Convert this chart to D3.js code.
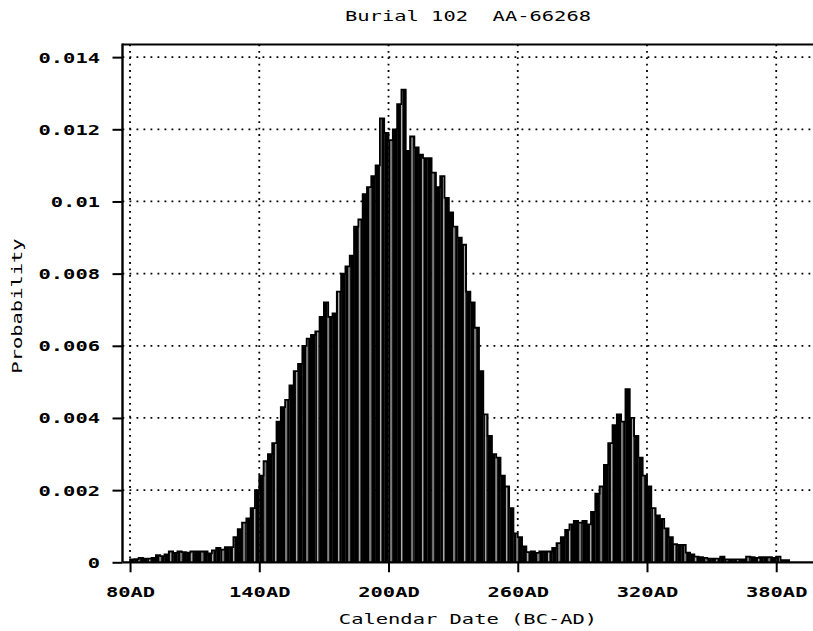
<!DOCTYPE html>
<html>
<head>
<meta charset="utf-8">
<script src="https://cdn.jsdelivr.net/npm/d3@7"></script>
<style>
    body { margin: 0; background: #fff; }
    svg { display: block; }
    text { font-family: "DejaVu Sans Mono", monospace; fill: #000; white-space: pre; }
</style>
</head>
<body>
<script>
'use strict';

/**
 * calibrated date histogram, Burial 102
 */

var title = 'Burial 102  AA-66268';
var xLabel = 'Calendar Date (BC-AD)';
var yLabel = 'Probability';

var xTicks = [80, 140, 200, 260, 320, 380];
var xTickLabels = ['80AD', '140AD', '200AD', '260AD', '320AD', '380AD'];
var yTicks = [0, 0.002, 0.004, 0.006, 0.008, 0.01, 0.012, 0.014];
var yTickLabels = ['0', '0.002', '0.004', '0.006', '0.008', '0.01', '0.012', '0.014'];

// bins are 2 years wide, listed by start year
var binWidth = 2;
var binYears = [
    80, 82, 84, 86, 88, 90, 92, 94, 96, 98,
    100, 102, 104, 106, 108, 110, 112, 114, 116, 118,
    120, 122, 124, 126, 128, 130, 132, 134, 136, 138,
    140, 142, 144, 146, 148, 150, 152, 154, 156, 158,
    160, 162, 164, 166, 168, 170, 172, 174, 176, 178,
    180, 182, 184, 186, 188, 190, 192, 194, 196, 198,
    200, 202, 204, 206, 208, 210, 212, 214, 216, 218,
    220, 222, 224, 226, 228, 230, 232, 234, 236, 238,
    240, 242, 244, 246, 248, 250, 252, 254, 256, 258,
    260, 262, 264, 266, 268, 270, 272, 274, 276, 278,
    280, 282, 284, 286, 288, 290, 292, 294, 296, 298,
    300, 302, 304, 306, 308, 310, 312, 314, 316, 318,
    320, 322, 324, 326, 328, 330, 332, 334, 336, 338,
    340, 342, 344, 346, 348, 350, 352, 354, 356, 358,
    360, 362, 364, 366, 368, 370, 372, 374, 376, 378,
    380, 382, 384
];
var probs = [
    0.00008, 0.00009, 0.00012, 0.0001, 0.0001, 0.00012, 0.0002, 0.00017, 0.00022, 0.0003,
    0.00026, 0.0003, 0.00028, 0.00027, 0.0003, 0.0003, 0.0003, 0.0003, 0.00025, 0.00033,
    0.0004, 0.00035, 0.00042, 0.00042, 0.0007, 0.00092, 0.0011, 0.00122, 0.0015, 0.002,
    0.0024, 0.0028, 0.003, 0.0033, 0.0039, 0.0043, 0.0045, 0.0049, 0.0053, 0.0055,
    0.006, 0.0062, 0.0063, 0.0064, 0.0068, 0.0072, 0.0068, 0.0069, 0.0075, 0.008,
    0.0082, 0.0085, 0.0093, 0.0095, 0.0102, 0.0104, 0.0107, 0.011, 0.0123, 0.0119,
    0.0117, 0.012, 0.0127, 0.0131, 0.0114, 0.0118, 0.0115, 0.0113, 0.0112, 0.0112,
    0.0108, 0.0104, 0.0107, 0.0101, 0.0097, 0.0093, 0.009, 0.0088, 0.0075, 0.0072,
    0.0065, 0.0053, 0.0041, 0.0035, 0.003, 0.0029, 0.0024, 0.0021, 0.0015, 0.0008,
    0.0007, 0.00044, 0.00028, 0.0003, 0.00026, 0.0003, 0.0003, 0.0003, 0.0004, 0.00053,
    0.0007, 0.0009, 0.00105, 0.00115, 0.0011, 0.00115, 0.00105, 0.0014, 0.0019, 0.0021,
    0.0027, 0.0033, 0.0038, 0.0041, 0.0039, 0.0048, 0.004, 0.0035, 0.0029, 0.0024,
    0.0021, 0.0015, 0.0013, 0.0012, 0.00094, 0.0007, 0.0005, 0.00048, 0.00048, 0.00027,
    0.00022, 0.00016, 0.00014, 0.00012, 0.0001, 0.0001, 0.0001, 0.00016, 0.00008, 0.00008,
    0.00008, 0.00008, 0.00008, 0.00016, 0.00014, 0.00012, 0.00014, 0.00014, 0.00014, 0.00012,
    0.00016, 0.00006, 0.00006
];

var width = 813;
var height = 631;
var frame = {left: 122.5, top: 44.5, right: 815, bottom: 562.3};
var charAdvance = 12.3; // wide plotter font

var x = d3.scaleLinear().domain([76.5, 398]).range([frame.left, frame.right]);
var y = d3.scaleLinear().domain([0, 0.01435]).range([frame.bottom, frame.top]);

var bins = binYears.map(function (yr, i) {
    return {year: yr, value: probs[i]};
});

var svg = d3.select('body')
    .append('svg')
    .attr('width', width)
    .attr('height', height);

// stretch the text to the wide letter spacing of the original
function stretch(sel, adv) {
    sel.attr('lengthAdjust', 'spacingAndGlyphs')
        .attr('textLength', function () {
            return this.textContent.length * adv;
        });
}

// fill pattern: black with a thin light stripe every ~10px
var pattern = svg.append('defs')
    .append('pattern')
    .attr('id', 'barFill')
    .attr('patternUnits', 'userSpaceOnUse')
    .attr('width', 10.5)
    .attr('height', 10);
pattern.append('rect')
    .attr('width', 10.5)
    .attr('height', 10)
    .attr('fill', '#000');
pattern.append('rect')
    .attr('x', 2.2)
    .attr('width', 1)
    .attr('height', 10)
    .attr('fill', '#fff');

// dotted grid
svg.append('g')
    .selectAll('line')
    .data(yTicks.filter(function (d) { return d > 0; }))
    .enter()
    .append('line')
    .attr('x1', frame.left)
    .attr('x2', frame.right)
    .attr('y1', function (d) { return y(d); })
    .attr('y2', function (d) { return y(d); })
    .attr('stroke', '#000')
    .attr('stroke-width', 1.8)
    .attr('stroke-dasharray', '1.8,5.2');

svg.append('g')
    .selectAll('line')
    .data(xTicks)
    .enter()
    .append('line')
    .attr('x1', function (d) { return x(d); })
    .attr('x2', function (d) { return x(d); })
    .attr('y1', frame.top)
    .attr('y2', frame.bottom)
    .attr('stroke', '#000')
    .attr('stroke-width', 1.8)
    .attr('stroke-dasharray', '1.8,4.6');

// histogram bars
svg.append('g')
    .selectAll('rect')
    .data(bins)
    .enter()
    .append('rect')
    .attr('x', function (d) { return x(d.year); })
    .attr('width', function (d) { return x(d.year + binWidth) - x(d.year) + 0.3; })
    .attr('y', function (d) { return y(d.value); })
    .attr('height', function (d) { return y(0) - y(d.value); })
    .attr('fill', 'url(#barFill)');

// step outline
var last = bins[bins.length - 1];
var outlinePts = [{year: bins[0].year, value: 0}]
    .concat(bins)
    .concat([{year: last.year + binWidth, value: last.value}, {year: last.year + binWidth, value: 0}]);

svg.append('path')
    .datum(outlinePts)
    .attr('d', d3.line()
        .x(function (d) { return x(d.year); })
        .y(function (d) { return y(d.value); })
        .curve(d3.curveStepAfter))
    .attr('fill', 'none')
    .attr('stroke', '#000')
    .attr('stroke-width', 1.8);

// frame
svg.append('line')
    .attr('x1', frame.left).attr('x2', frame.left)
    .attr('y1', frame.top - 1).attr('y2', frame.bottom)
    .attr('stroke', '#000').attr('stroke-width', 2.4);
svg.append('line')
    .attr('x1', frame.left).attr('x2', frame.right)
    .attr('y1', frame.top).attr('y2', frame.top)
    .attr('stroke', '#000').attr('stroke-width', 2.2);
svg.append('line')
    .attr('x1', frame.left).attr('x2', frame.right)
    .attr('y1', frame.bottom).attr('y2', frame.bottom)
    .attr('stroke', '#000').attr('stroke-width', 2.2);

// axes
var yAxis = svg.append('g')
    .attr('transform', 'translate(' + frame.left + ',0)')
    .call(d3.axisLeft(y)
        .tickValues(yTicks)
        .tickFormat(function (d, i) { return yTickLabels[i]; })
        .tickSize(10)
        .tickPadding(12.5));
yAxis.select('.domain').remove();
yAxis.attr('font-family', null).attr('font-size', null);
yAxis.selectAll('line').attr('stroke-width', 2);
yAxis.selectAll('text')
    .attr('font-size', 14)
    .attr('font-weight', 'bold')
    .attr('dy', '0.35em')
    .call(stretch, charAdvance);

var xAxis = svg.append('g')
    .attr('transform', 'translate(0,' + frame.bottom + ')')
    .call(d3.axisBottom(x)
        .tickValues(xTicks)
        .tickFormat(function (d, i) { return xTickLabels[i]; })
        .tickSize(10));
xAxis.select('.domain').remove();
xAxis.attr('font-family', null).attr('font-size', null);
xAxis.selectAll('line').attr('stroke-width', 2);
xAxis.selectAll('text')
    .attr('font-size', 14)
    .attr('font-weight', 'bold')
    .attr('y', 34.7)
    .attr('dy', null)
    .call(stretch, charAdvance);

// titles
svg.append('text')
    .attr('x', 468)
    .attr('y', 20.5)
    .attr('text-anchor', 'middle')
    .attr('font-size', 14)
    .text(title)
    .call(stretch, charAdvance);

svg.append('text')
    .attr('x', 468)
    .attr('y', 624)
    .attr('text-anchor', 'middle')
    .attr('font-size', 14)
    .text(xLabel)
    .call(stretch, charAdvance);

svg.append('text')
    .attr('transform', 'translate(22,306) rotate(-90)')
    .attr('text-anchor', 'middle')
    .attr('font-size', 14)
    .text(yLabel)
    .call(stretch, charAdvance);
</script>
</body>
</html>
